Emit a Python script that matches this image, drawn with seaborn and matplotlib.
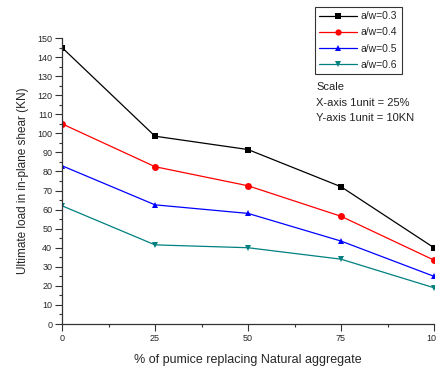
import numpy as np
import pandas as pd
import matplotlib
matplotlib.use("Agg")
import matplotlib.pyplot as plt
import seaborn as sns
from matplotlib.ticker import MultipleLocator
from matplotlib.lines import Line2D

# Data
pumice_pct = [0, 25, 50, 75, 100]
aw_03 = [145, 98.5, 91.5, 72, 40]
aw_04 = [105, 82.5, 72.5, 56.5, 33.5]
aw_05 = [83, 62.5, 58, 43.5, 25]
aw_06 = [62, 41.5, 40, 34, 19]
series_labels = ["a/w=0.3", "a/w=0.4", "a/w=0.5", "a/w=0.6"]
scale_lines = ["Scale", "X-axis 1unit = 25%", "Y-axis 1unit = 10KN"]

rows = []
for lab, vals in zip(series_labels, [aw_03, aw_04, aw_05, aw_06]):
    for x, y in zip(pumice_pct, vals):
        rows.append({"x": x, "y": y, "series": lab})
df = pd.DataFrame(rows)

sns.set_style("white")
plt.rcParams["font.family"] = ["Liberation Sans", "DejaVu Sans"]

fig = plt.figure(figsize=(4.36, 3.68), dpi=100)
ax = fig.add_axes([62 / 436, 44 / 368, 372 / 436, 286 / 368])

palette = ["#000000", "#ff0000", "#0000ff", "#008080"]
markers = ["s", "o", "^", "v"]
sns.lineplot(data=df, x="x", y="y", hue="series", style="series",
             palette=palette, markers=markers, dashes=False, ax=ax,
             linewidth=0.9, markersize=5, markeredgewidth=0, legend=False)

ax.set_xlim(0, 100)
ax.set_ylim(0, 150)
ax.xaxis.set_major_locator(MultipleLocator(25))
ax.xaxis.set_minor_locator(MultipleLocator(12.5))
ax.yaxis.set_major_locator(MultipleLocator(10))
ax.yaxis.set_minor_locator(MultipleLocator(5))
ax.tick_params(axis="both", which="major", direction="out", length=5,
               width=0.8, labelsize=6.5, color="#333333", pad=2,
               bottom=True, left=True)
ax.tick_params(axis="both", which="minor", direction="out", length=2.5,
               width=0.8, color="#333333", bottom=True, left=True)
for s in ["top", "right"]:
    ax.spines[s].set_visible(False)
for s in ["left", "bottom"]:
    ax.spines[s].set_color("#333333")
    ax.spines[s].set_linewidth(0.9)

ax.set_xlabel("% of pumice replacing Natural aggregate", fontsize=9, labelpad=8)
ax.set_ylabel("Ultimate load in in-plane shear (KN)", fontsize=8.5, labelpad=6)

handles = [Line2D([0], [0], color=c, marker=m, markersize=4.5, linewidth=0.9,
                  markeredgewidth=0) for c, m in zip(palette, markers)]
leg = fig.legend(handles, series_labels, loc="upper left",
                 bbox_to_anchor=(315 / 436, 1 - 7 / 368), fontsize=7.5,
                 frameon=True, fancybox=False, edgecolor="black",
                 handlelength=3.6, handletextpad=0.4, borderpad=0.4,
                 labelspacing=0.6, borderaxespad=0)
leg.get_frame().set_linewidth(0.8)

for i, t in enumerate(scale_lines):
    fig.text(316 / 436, 1 - (87 + i * 15.5) / 368, t, fontsize=8,
             va="center", ha="left", color="#222222")

fig.savefig("out.png", dpi=100)
